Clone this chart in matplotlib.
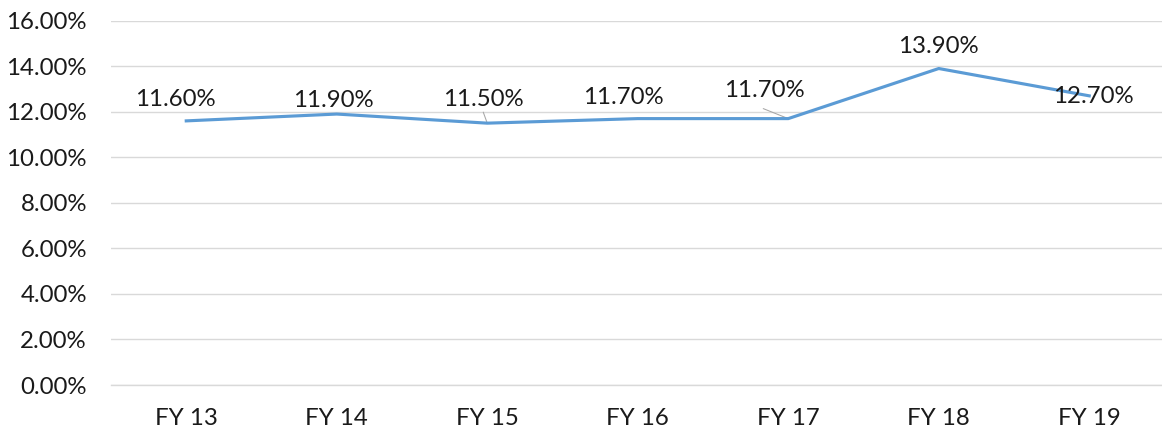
import matplotlib
matplotlib.use("Agg")
import matplotlib.pyplot as plt
from matplotlib.ticker import FuncFormatter, MultipleLocator

categories = ["FY 13", "FY 14", "FY 15", "FY 16", "FY 17", "FY 18", "FY 19"]
values = [11.60, 11.90, 11.50, 11.70, 11.70, 13.90, 12.70]
value_labels = ["11.60%", "11.90%", "11.50%", "11.70%", "11.70%", "13.90%", "12.70%"]

# label offsets in pixels (dx, dy) relative to the data point
label_offsets = [(-11, 21), (-3, 14), (-4, 24), (-14, 21), (-24, 28), (0, 22), (4, -1)]
# leader lines: index -> offset of the label-side end in pixels
leaders = {2: (-4, 11), 4: (-25, 10)}

plt.rcParams['font.family'] = ['Lato', 'DejaVu Sans']

FS = 17.3
fig = plt.figure(figsize=(11.62, 4.33), dpi=100)
ax = fig.add_axes([111 / 1162, 1 - 385 / 433, 1053.5 / 1162, (385 - 20.7) / 433])

x = list(range(len(categories)))
ax.plot(x, values, color="#5B9BD5", lw=2.25, solid_joinstyle="round", zorder=3)

ax.set_xlim(-0.5, len(categories) - 0.5)
ax.set_ylim(0, 16)
ax.yaxis.set_major_locator(MultipleLocator(2))
ax.yaxis.set_major_formatter(FuncFormatter(lambda v, p: f"{v:.2f}%"))
ax.set_xticks(x)
ax.set_xticklabels(categories)

ax.grid(axis="y", color="#D9D9D9", lw=1.0)
ax.set_axisbelow(True)
for s in ["top", "right", "left"]:
    ax.spines[s].set_visible(False)
ax.spines["bottom"].set_color("#D9D9D9")
ax.spines["bottom"].set_linewidth(1.0)
ax.tick_params(axis="both", length=0, labelsize=FS, colors="#1a1a1a")
ax.tick_params(axis="y", pad=17.3)
ax.tick_params(axis="x", pad=16.5)

for i, (v, lab, (dx, dy)) in enumerate(zip(values, value_labels, label_offsets)):
    ax.annotate(lab, xy=(i, v), xytext=(dx, dy), textcoords="offset pixels",
                ha="center", va="center", fontsize=FS, color="#1a1a1a", zorder=4)

for i, (dx, dy) in leaders.items():
    ax.annotate("", xy=(i, values[i]), xytext=(dx, dy), textcoords="offset pixels",
                arrowprops=dict(arrowstyle="-", color="#A6A6A6", lw=0.75,
                                shrinkA=0, shrinkB=0), zorder=2)

fig.savefig("out.png", dpi=100)
